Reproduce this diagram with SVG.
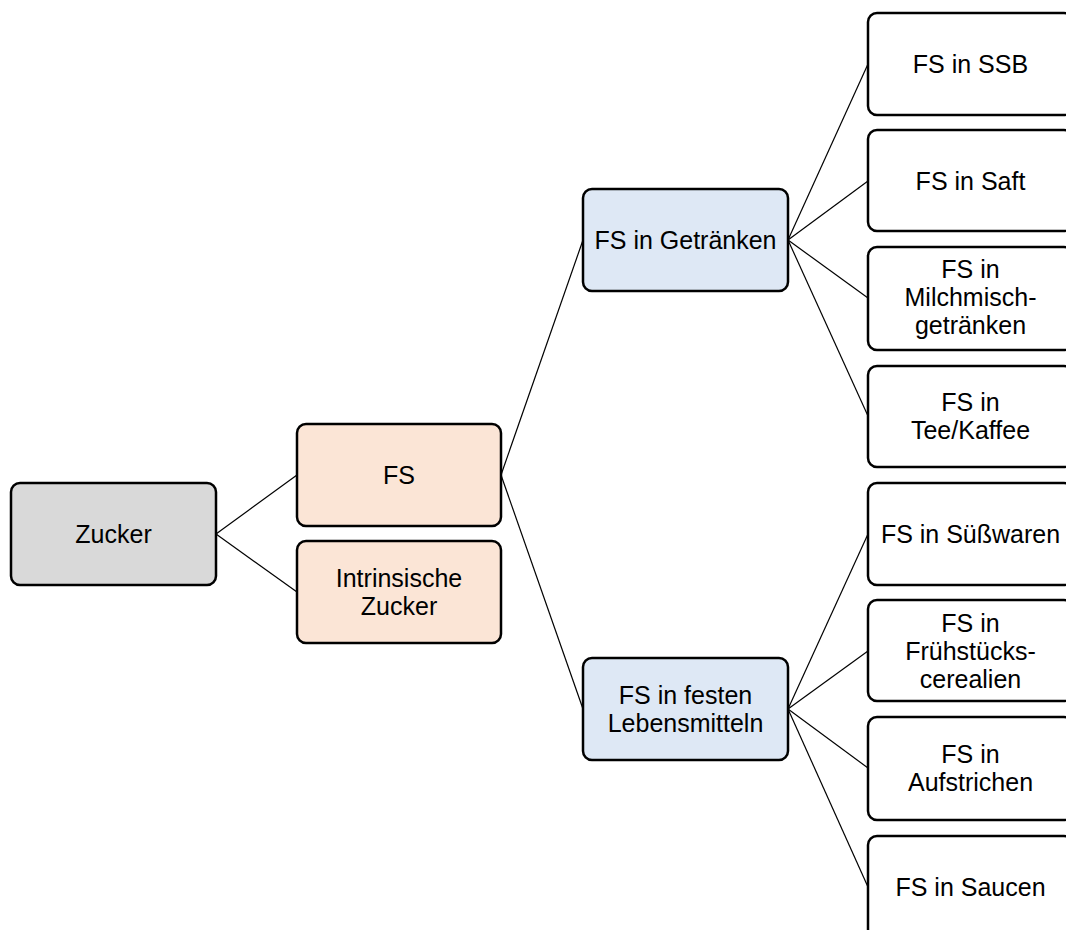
<svg xmlns="http://www.w3.org/2000/svg" width="1066" height="930" viewBox="0 0 1066 930">
<style>
.box{stroke:#000;stroke-width:2.5}
.g{fill:#d9d9d9}.p{fill:#fbe5d6}.b{fill:#dee8f5}.w{fill:#fff}
text{font-family:"Liberation Sans",Arial,sans-serif;font-size:25px;fill:#000;text-anchor:middle}
.c line{stroke:#000;stroke-width:1.2}
</style>
<rect width="1066" height="930" fill="#fff"/>
<g class="c" id="connectors">
<line x1="216" y1="534" x2="297" y2="475"/>
<line x1="216" y1="534" x2="297" y2="592"/>
<line x1="501" y1="475" x2="583" y2="240"/>
<line x1="501" y1="475" x2="583" y2="709"/>
<line x1="788" y1="240" x2="868" y2="64"/>
<line x1="788" y1="240" x2="868" y2="181"/>
<line x1="788" y1="240" x2="868" y2="298"/>
<line x1="788" y1="240" x2="868" y2="416"/>
<line x1="788" y1="709" x2="868" y2="534"/>
<line x1="788" y1="709" x2="868" y2="651"/>
<line x1="788" y1="709" x2="868" y2="768"/>
<line x1="788" y1="709" x2="868" y2="887"/>
</g>
<g id="zucker"><rect class="box g" x="11" y="483" width="205" height="102" rx="9"/><text x="113.5" y="543">Zucker</text></g>
<g id="fs"><rect class="box p" x="297" y="424" width="204" height="102" rx="9"/><text x="399" y="484">FS</text></g>
<g id="intrinsisch"><rect class="box p" x="297" y="541" width="204" height="102" rx="9"/><text x="399" y="587">Intrinsische</text><text x="399" y="615">Zucker</text></g>
<g id="getraenke"><rect class="box b" x="583" y="189" width="205" height="102" rx="9"/><text x="685.5" y="249">FS in Getränken</text></g>
<g id="feste"><rect class="box b" x="583" y="658" width="205" height="102" rx="9"/><text x="685.5" y="704">FS in festen</text><text x="685.5" y="732">Lebensmitteln</text></g>
<g id="ssb"><rect class="box w" x="868" y="13" width="205" height="102" rx="9"/><text x="970.5" y="73">FS in SSB</text></g>
<g id="saft"><rect class="box w" x="868" y="130" width="205" height="101" rx="9"/><text x="970.5" y="190">FS in Saft</text></g>
<g id="milch"><rect class="box w" x="868" y="247" width="205" height="103" rx="9"/><text x="970.5" y="278">FS in</text><text x="970.5" y="306">Milchmisch-</text><text x="970.5" y="334">getränken</text></g>
<g id="tee"><rect class="box w" x="868" y="366" width="205" height="101" rx="9"/><text x="970.5" y="411">FS in</text><text x="970.5" y="439">Tee/Kaffee</text></g>
<g id="suess"><rect class="box w" x="868" y="483" width="205" height="102" rx="9"/><text x="970.5" y="543">FS in Süßwaren</text></g>
<g id="fruehstueck"><rect class="box w" x="868" y="600" width="205" height="101" rx="9"/><text x="970.5" y="632">FS in</text><text x="970.5" y="660">Frühstücks-</text><text x="970.5" y="688">cerealien</text></g>
<g id="aufstrich"><rect class="box w" x="868" y="717" width="205" height="103" rx="9"/><text x="970.5" y="763">FS in</text><text x="970.5" y="791">Aufstrichen</text></g>
<g id="saucen"><rect class="box w" x="868" y="836" width="205" height="102" rx="9"/><text x="970.5" y="896">FS in Saucen</text></g>
</svg>
